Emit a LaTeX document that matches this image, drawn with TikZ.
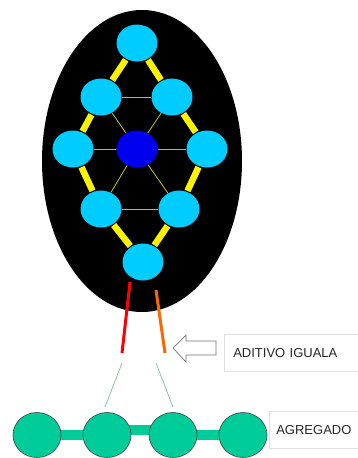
\documentclass[tikz,border=0pt]{standalone}
\usepackage{fontspec}
\setmainfont{Liberation Sans}
\usetikzlibrary{shapes.geometric}
\definecolor{cyanb}{HTML}{00CCFF}
\definecolor{blueb}{HTML}{0000EE}
\definecolor{greenb}{HTML}{00CC99}
\definecolor{thinyel}{HTML}{C8C800}
\definecolor{orangeb}{HTML}{FF6600}
\definecolor{paleg}{HTML}{8FBFA5}
\tikzset{
  atom/.style={ellipse,fill=cyanb,minimum width=41pt,minimum height=37pt,inner sep=0pt},
  core/.style={atom,fill=blueb},
  bead/.style={ellipse,fill=greenb,draw=black!75,line width=0.6pt,minimum width=48pt,minimum height=45pt,inner sep=0pt},
  bond/.style={yellow,line width=6.5pt,shorten <=1pt,shorten >=1pt},
  thin/.style={thinyel,line width=0.8pt},
  chain/.style={greenb,line width=10pt},
  lbl/.style={draw=black!12,line width=0.6pt,anchor=west,minimum height=37pt,inner sep=0pt,font=\fontsize{13}{15}\selectfont,text=black!85}
}
\begin{document}
\begin{tikzpicture}[x=1pt,y=-1pt]
\useasboundingbox (0,0) rectangle (358,458);
\fill[black] (142,161) ellipse [x radius=100, y radius=151];
\node[atom] (t) at (137,43) {};
\node[atom] (l2) at (101,97) {};
\node[atom] (r2) at (172,97) {};
\node[atom] (l3) at (73,149) {};
\node[core] (c) at (137,149) {};
\node[atom] (r3) at (207,149) {};
\node[atom] (l4) at (101,209) {};
\node[atom] (r4) at (179,209) {};
\node[atom] (b) at (143,262) {};
\draw[bond] (t) -- (l2);
\draw[bond] (t) -- (r2);
\draw[bond] (l2) -- (l3);
\draw[bond] (r2) -- (r3);
\draw[bond] (l3) -- (l4);
\draw[bond] (r3) -- (r4);
\draw[bond] (l4) -- (b);
\draw[bond] (r4) -- (b);
\draw[thin] (l2) -- (r2);
\draw[thin] (l4) -- (r4);
\draw[thin] (c) -- (l2);
\draw[thin] (c) -- (r2);
\draw[thin] (c) -- (l3);
\draw[thin] (c) -- (r3);
\draw[thin] (c) -- (l4);
\draw[thin] (c) -- (r4);
\coordinate (ra) at (130,282);
\coordinate (rb) at (122,353);
\coordinate (oa) at (156,290);
\coordinate (ob) at (165,353);
\draw[red,line width=3pt] (ra) -- (rb);
\draw[orangeb,line width=3pt] (oa) -- (ob);
\coordinate (ga) at (122,363);
\coordinate (gb) at (105,407);
\coordinate (gc) at (156,363);
\coordinate (gd) at (173,407);
\draw[paleg,line width=0.8pt] (ga) -- (gb);
\draw[paleg,line width=0.8pt] (gc) -- (gd);
\coordinate (p1) at (37,435);
\coordinate (p2) at (107,435);
\coordinate (q2) at (107,430);
\coordinate (q3) at (173,430);
\coordinate (p3) at (173,435);
\coordinate (p4) at (243,435);
\draw[chain] (p1) -- (p2);
\draw[chain] (q2) -- (q3);
\draw[chain] (p3) -- (p4);
\node[bead] (g1) at (p1) {};
\node[bead] (g2) at (p2) {};
\node[bead] (g3) at (p3) {};
\node[bead] (g4) at (p4) {};
\draw[draw=black!55,fill=white,line width=0.7pt,line join=miter]
  (173,348) -- (186,335) -- (186,341) -- (216,341) -- (216,355) -- (186,355) -- (186,362) -- cycle;
\node[lbl,text width=140pt,align=left] (ad) at (224,353) {\hspace*{9pt}ADITIVO IGUALA};
\node[lbl,text width=100pt,align=left] (ag) at (269,430) {\hspace*{7pt}AGREGADO};
\end{tikzpicture}
\end{document}
